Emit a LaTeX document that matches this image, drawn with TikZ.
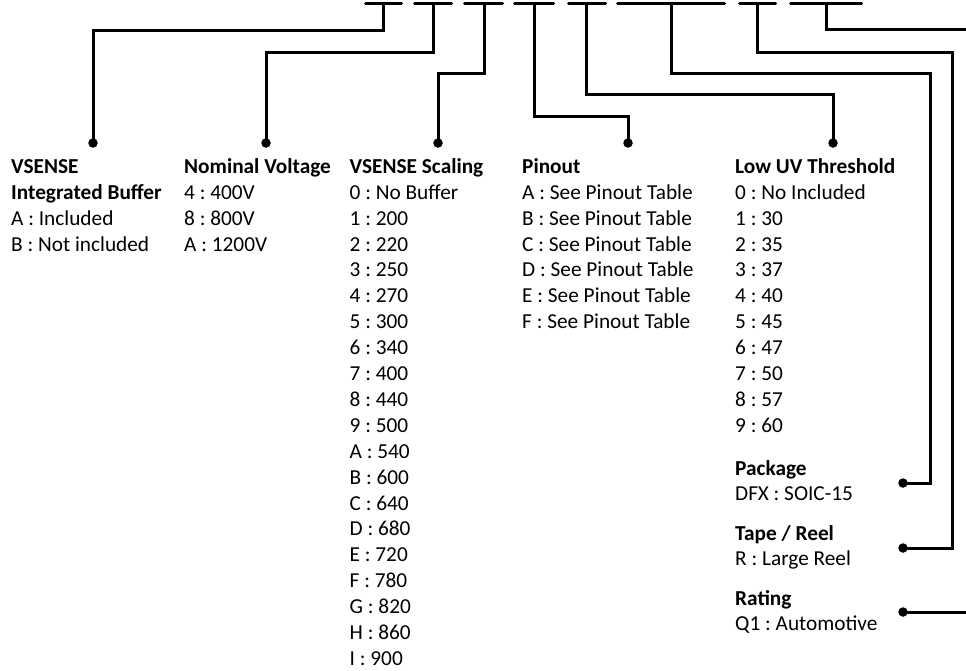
\documentclass[tikz,border=0pt]{standalone}
\usepackage{fontspec}
\setmainfont{Carlito}
\frenchspacing
\begin{document}
\begin{tikzpicture}[x=1pt,y=-1pt,
  conn/.style={line width=3pt},
  barline/.style={line width=3pt,line cap=round},
  dotmark/.style={circle,fill=black,inner sep=0pt,minimum size=9.5pt},
  head/.style={anchor=base west,inner sep=0pt,font=\fontsize{21.3}{25}\selectfont\frenchspacing\bfseries},
  item/.style={anchor=base west,inner sep=0pt,font=\fontsize{21.3}{25}\selectfont\frenchspacing}]
\useasboundingbox (0,0) rectangle (966,670);
% top bars
\foreach \a/\b/\s [count=\k] in {364/403/383, 413/453/433, 463/504/484, 513/555/534, 567/607/586, 616/726/671, 738/777/757, 789/863/826}{
  \draw[barline] (\a+1.5,3.3) -- (\b-1.5,3.3);
  \coordinate (s\k) at (\s,3.3);
}
% dots
\node[dotmark] (d1) at (93,143) {};
\node[dotmark] (d2) at (266,143) {};
\node[dotmark] (d3) at (438,143) {};
\node[dotmark] (d4) at (628,143) {};
\node[dotmark] (d5) at (833,143) {};
\node[dotmark] (d6) at (903,483) {};
\node[dotmark] (d7) at (903,548) {};
\node[dotmark] (d8) at (903,612) {};
\coordinate (c6) at (930,483);
\coordinate (c7) at (952,548);
\coordinate (e8) at (967,29);
\coordinate (e9) at (967,612);
% connectors
\draw[conn] (s1) -- ++(0,26.7) -| (d1.center);
\draw[conn] (s2) -- ++(0,48.7) -| (d2.center);
\draw[conn] (s3) -- ++(0,69.7) -| (d3.center);
\draw[conn] (s4) -- ++(0,112.7) -| (d4.center);
\draw[conn] (s5) -- ++(0,90.7) -| (d5.center);
\draw[conn] (s6) -- ++(0,69.7) -| (c6) -- (d6.center);
\draw[conn] (s7) -- ++(0,48.7) -| (c7) -- (d7.center);
\draw[conn] (s8) |- (e8);
\draw[conn] (d8.center) -- (e9);
% column 1
\node[head] (h1a) at (11,173.3) {VSENSE};
\node[head] (h1b) at (11,199.2) {Integrated Buffer};
\node[item] (i1a) at (11,225.1) {A : Included};
\node[item] (i1b) at (11,251.0) {B : Not included};
% column 2
\node[head] (h2) at (184,173.3) {Nominal Voltage};
\foreach \t [count=\i] in {4 : 400V, 8 : 800V, A : 1200V}
  \node[item] (i2\i) at (184,173.3+25.9*\i) {\t};
% column 3
\node[head] (h3) at (349.5,173.3) {VSENSE Scaling};
\foreach \t [count=\i] in {0 : No Buffer, 1 : 200, 2 : 220, 3 : 250, 4 : 270, 5 : 300, 6 : 340, 7 : 400, 8 : 440, 9 : 500, A : 540, B : 600, C : 640, D : 680, E : 720, F : 780, G : 820, H : 860, I : 900}
  \node[item] (i3\i) at (349.5,173.3+25.9*\i) {\t};
% column 4
\node[head] (h4) at (522,173.3) {Pinout};
\foreach \t [count=\i] in {A : See Pinout Table, B : See Pinout Table, C : See Pinout Table, D : See Pinout Table, E : See Pinout Table, F : See Pinout Table}
  \node[item] (i4\i) at (522,173.3+25.9*\i) {\t};
% column 5
\node[head] (h5) at (735,173.3) {Low UV Threshold};
\foreach \t [count=\i] in {0 : No Included, 1 : 30, 2 : 35, 3 : 37, 4 : 40, 5 : 45, 6 : 47, 7 : 50, 8 : 57, 9 : 60}
  \node[item] (i5\i) at (735,173.3+25.9*\i) {\t};
% package etc.
\node[head] (h6) at (735,475) {Package};
\node[item] (i6) at (735,500.8) {DFX : SOIC-15};
\node[head] (h7) at (735,540) {Tape / Reel};
\node[item] (i7) at (735,565.8) {R : Large Reel};
\node[head] (h8) at (735,605) {Rating};
\node[item] (i8) at (735,630.8) {Q1 : Automotive};
\end{tikzpicture}
\end{document}
